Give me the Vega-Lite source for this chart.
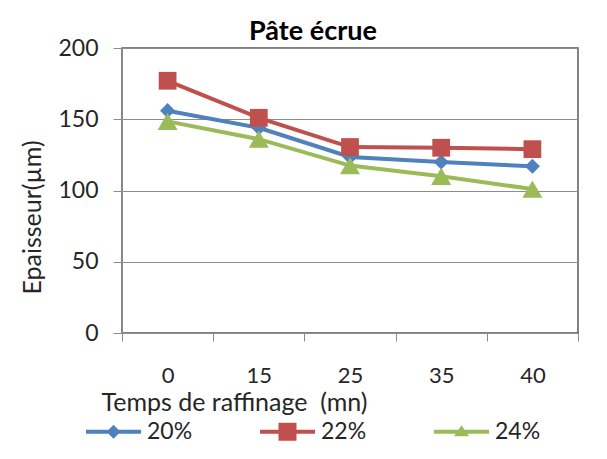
{
  "$schema": "https://vega.github.io/schema/vega-lite/v6.json",
  "width": 456,
  "height": 285,
  "autosize": {"type": "none"},
  "padding": {"left": 122, "top": 48, "right": 29, "bottom": 126},
  "background": "white",
  "title": {
    "text": "Pâte écrue",
    "font": "Lato",
    "fontSize": 27,
    "fontWeight": "bold",
    "color": "#000000",
    "anchor": "middle",
    "dx": -37,
    "offset": -9
  },
  "config": {
    "font": "Lato",
    "view": {"stroke": "#595959", "strokeWidth": 1.5},
    "axis": {
      "labelFont": "Lato",
      "titleFont": "Lato",
      "labelColor": "#262626",
      "titleColor": "#262626",
      "titleFontWeight": "normal",
      "domainColor": "#8c8c8c",
      "tickColor": "#8c8c8c",
      "gridColor": "#8c8c8c",
      "labelFontSize": 22,
      "titleFontSize": 25
    },
    "legend": {"labelFont": "Lato", "labelFontSize": 23, "labelColor": "#262626", "padding": 0, "symbolOpacity": 1, "symbolStrokeWidth": 0}
  },
  "data": {
    "values": [
      {"temps": "0", "series": "20%", "ep": 156},
      {"temps": "15", "series": "20%", "ep": 144},
      {"temps": "25", "series": "20%", "ep": 123.5},
      {"temps": "35", "series": "20%", "ep": 120},
      {"temps": "40", "series": "20%", "ep": 117},
      {"temps": "0", "series": "22%", "ep": 177},
      {"temps": "15", "series": "22%", "ep": 151},
      {"temps": "25", "series": "22%", "ep": 130.5},
      {"temps": "35", "series": "22%", "ep": 130},
      {"temps": "40", "series": "22%", "ep": 129},
      {"temps": "0", "series": "24%", "ep": 148.5},
      {"temps": "15", "series": "24%", "ep": 136},
      {"temps": "25", "series": "24%", "ep": 117.5},
      {"temps": "35", "series": "24%", "ep": 110},
      {"temps": "40", "series": "24%", "ep": 101}
    ]
  },
  "encoding": {
    "x": {
      "field": "temps",
      "type": "ordinal",
      "sort": ["0", "15", "25", "35", "40"],
      "scale": {"type": "band", "paddingInner": 0, "paddingOuter": 0},
      "axis": {
        "title": "Temps de raffinage \u00a0(mn)",
        "labelAngle": 0,
        "tickBand": "extent",
        "tickSize": 8,
        "labelPadding": 24,
        "titleX": 112,
        "titleY": 69,
        "titleAlign": "center",
        "titleBaseline": "middle",
        "grid": false
      }
    },
    "y": {
      "field": "ep",
      "type": "quantitative",
      "scale": {"domain": [0, 200]},
      "axis": {
        "title": "Epaisseur(µm)",
        "values": [0, 50, 100, 150, 200],
        "tickSize": 9,
        "labelPadding": 15,
        "labelFontSize": 23,
        "titleAngle": -90,
        "titleX": -90,
        "titleY": 169,
        "titleAlign": "center",
        "titleBaseline": "middle",
        "grid": true
      }
    }
  },
  "resolve": {"scale": {"color": "independent", "shape": "independent"}, "legend": {"color": "independent", "shape": "independent"}},
  "layer": [
    {
      "mark": {"type": "line", "strokeWidth": 4},
      "encoding": {
        "color": {
          "field": "series",
          "type": "nominal",
          "scale": {"domain": ["20%", "22%", "24%"], "range": ["#4F81BD", "#C0504D", "#9BBB59"]},
          "legend": null
        }
      }
    },
    {
      "mark": {"type": "point", "filled": true, "opacity": 1},
      "encoding": {
        "color": {
          "field": "series",
          "type": "nominal",
          "scale": {"domain": ["20%", "22%", "24%"], "range": ["#4F81BD", "#C0504D", "#9BBB59"]},
          "legend": null
        },
        "shape": {
          "field": "series",
          "type": "nominal",
          "scale": {"domain": ["20%", "22%", "24%"], "range": ["diamond", "square", "triangle-up"]},
          "legend": null
        },
        "size": {
          "field": "series",
          "type": "nominal",
          "scale": {"domain": ["20%", "22%", "24%"], "range": [230, 400, 300]},
          "legend": null
        }
      }
    },
    {
      "mark": {"type": "point", "filled": true, "opacity": 0, "size": 400},
      "encoding": {
        "color": {
          "field": "series",
          "type": "nominal",
          "scale": {"domain": ["20%", "22%", "24%"], "range": ["#4F81BD", "#C0504D", "#9BBB59"]},
          "legend": {
            "title": null,
            "orient": "none",
            "direction": "horizontal",
            "legendX": -20,
            "legendY": 372,
            "columns": 3,
            "columnPadding": 67,
            "symbolSize": 400,
            "labelOffset": 22
          }
        },
        "shape": {
          "field": "series",
          "type": "nominal",
          "scale": {
            "domain": ["20%", "22%", "24%"],
            "range": [
              "M-2.75,-0.2H2.75V0.2H-2.75Z M0,-0.7L0.7,0L0,0.7L-0.7,0Z",
              "M-2.75,-0.2H2.75V0.2H-2.75Z M-0.9,-0.9H0.9V0.9H-0.9Z",
              "M-2.75,-0.2H2.75V0.2H-2.75Z M0,-0.65L0.75,0.45H-0.75Z"
            ]
          },
          "legend": {
            "title": null,
            "orient": "none",
            "direction": "horizontal",
            "legendX": -20,
            "legendY": 372,
            "columns": 3,
            "columnPadding": 67,
            "symbolSize": 400,
            "labelOffset": 22
          }
        }
      }
    }
  ]
}
